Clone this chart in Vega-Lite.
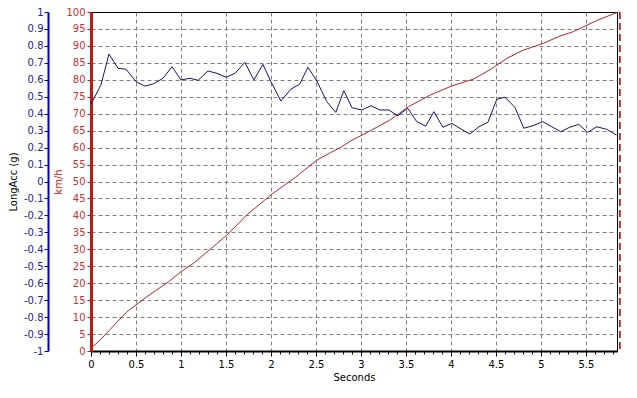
{
  "$schema": "https://vega.github.io/schema/vega-lite/v6.json",
  "width": 526,
  "height": 339,
  "autosize": "none",
  "padding": {"left": 91, "top": 12, "right": 20, "bottom": 47},
  "background": "white",
  "config": {
    "view": {"stroke": "black", "strokeWidth": 1},
    "font": "DejaVu Sans",
    "axis": {"labelFont": "DejaVu Sans", "titleFont": "DejaVu Sans", "labelFontSize": 10, "titleFontSize": 10, "titleFontWeight": "normal"}
  },
  "datasets": {
    "acc": [
      {"t": 0.00, "acc": 0.457}, {"t": 0.11, "acc": 0.569}, {"t": 0.20, "acc": 0.752}, {"t": 0.30, "acc": 0.668},
      {"t": 0.39, "acc": 0.662}, {"t": 0.50, "acc": 0.589}, {"t": 0.60, "acc": 0.563}, {"t": 0.69, "acc": 0.575},
      {"t": 0.80, "acc": 0.609}, {"t": 0.90, "acc": 0.677}, {"t": 1.00, "acc": 0.599}, {"t": 1.10, "acc": 0.609},
      {"t": 1.19, "acc": 0.597}, {"t": 1.30, "acc": 0.652}, {"t": 1.40, "acc": 0.638}, {"t": 1.50, "acc": 0.615},
      {"t": 1.60, "acc": 0.638}, {"t": 1.71, "acc": 0.703}, {"t": 1.81, "acc": 0.599}, {"t": 1.91, "acc": 0.691},
      {"t": 2.00, "acc": 0.589}, {"t": 2.11, "acc": 0.475}, {"t": 2.22, "acc": 0.544}, {"t": 2.32, "acc": 0.575},
      {"t": 2.41, "acc": 0.674}, {"t": 2.51, "acc": 0.593}, {"t": 2.62, "acc": 0.471}, {"t": 2.72, "acc": 0.408},
      {"t": 2.81, "acc": 0.536}, {"t": 2.90, "acc": 0.435}, {"t": 3.01, "acc": 0.422}, {"t": 3.11, "acc": 0.447},
      {"t": 3.21, "acc": 0.422}, {"t": 3.31, "acc": 0.422}, {"t": 3.41, "acc": 0.388}, {"t": 3.52, "acc": 0.432},
      {"t": 3.62, "acc": 0.353}, {"t": 3.72, "acc": 0.327}, {"t": 3.81, "acc": 0.412}, {"t": 3.91, "acc": 0.320},
      {"t": 4.01, "acc": 0.343}, {"t": 4.11, "acc": 0.310}, {"t": 4.21, "acc": 0.280}, {"t": 4.31, "acc": 0.323},
      {"t": 4.41, "acc": 0.349}, {"t": 4.51, "acc": 0.485}, {"t": 4.60, "acc": 0.497}, {"t": 4.71, "acc": 0.438},
      {"t": 4.81, "acc": 0.314}, {"t": 4.91, "acc": 0.329}, {"t": 5.02, "acc": 0.353}, {"t": 5.12, "acc": 0.323},
      {"t": 5.22, "acc": 0.294}, {"t": 5.32, "acc": 0.320}, {"t": 5.42, "acc": 0.337}, {"t": 5.52, "acc": 0.290},
      {"t": 5.62, "acc": 0.323}, {"t": 5.73, "acc": 0.308}, {"t": 5.84, "acc": 0.274}
    ],
    "speed": [
      {"t": 0.00, "kmh": 0.8}, {"t": 0.10, "kmh": 3.2}, {"t": 0.40, "kmh": 11.6}, {"t": 0.62, "kmh": 16.0},
      {"t": 0.86, "kmh": 20.4}, {"t": 1.00, "kmh": 23.4}, {"t": 1.14, "kmh": 25.9}, {"t": 1.36, "kmh": 30.8},
      {"t": 1.51, "kmh": 34.2}, {"t": 1.73, "kmh": 40.1}, {"t": 2.02, "kmh": 46.5}, {"t": 2.27, "kmh": 51.2},
      {"t": 2.51, "kmh": 56.3}, {"t": 2.66, "kmh": 58.5}, {"t": 2.77, "kmh": 60.0}, {"t": 2.90, "kmh": 62.2},
      {"t": 3.03, "kmh": 63.9}, {"t": 3.32, "kmh": 68.1}, {"t": 3.53, "kmh": 72.1}, {"t": 3.77, "kmh": 75.5},
      {"t": 4.01, "kmh": 78.2}, {"t": 4.25, "kmh": 80.2}, {"t": 4.43, "kmh": 82.9}, {"t": 4.62, "kmh": 86.3},
      {"t": 4.79, "kmh": 88.6}, {"t": 5.03, "kmh": 90.8}, {"t": 5.21, "kmh": 92.9}, {"t": 5.36, "kmh": 94.2},
      {"t": 5.62, "kmh": 97.5}, {"t": 5.84, "kmh": 99.8}
    ],
    "cursor": [{"t": 5.877}]
  },
  "encoding": {
    "x": {
      "field": "t",
      "type": "quantitative",
      "title": "Seconds",
      "scale": {"domain": [0, 5.845], "nice": false, "zero": false},
      "axis": {
        "values": [0,0.1,0.2,0.3,0.4,0.5,0.6,0.7,0.8,0.9,1,1.1,1.2,1.3,1.4,1.5,1.6,1.7,1.8,1.9,2,2.1,2.2,2.3,2.4,2.5,2.6,2.7,2.8,2.9,3,3.1,3.2,3.3,3.4,3.5,3.6,3.7,3.8,3.9,4,4.1,4.2,4.3,4.4,4.5,4.6,4.7,4.8,4.9,5,5.1,5.2,5.3,5.4,5.5,5.6,5.7,5.8],
        "labelExpr": "abs(datum.value*2 - round(datum.value*2)) < 0.001 ? ('' + datum.value) : ''",
        "labelColor": "black",
        "labelPadding": 3,
        "labelFlush": false,
        "labelOverlap": false,
        "domainColor": "black",
        "domainWidth": 2,
        "tickColor": "black",
        "tickSize": {"condition": {"test": "abs(datum.value*2 - round(datum.value*2)) < 0.001", "value": 5}, "value": 3},
        "grid": true,
        "gridColor": "#808080",
        "gridDash": [4, 3],
        "gridOpacity": {"condition": {"test": "abs(datum.value*2 - round(datum.value*2)) < 0.001 && datum.value > 0", "value": 1}, "value": 0},
        "titleColor": "black",
        "titlePadding": 3
      }
    }
  },
  "layer": [
    {
      "data": {"name": "speed"},
      "mark": {"type": "line", "color": "#b02828", "strokeWidth": 1},
      "encoding": {
        "y": {
          "field": "kmh",
          "type": "quantitative",
          "title": "km/h",
          "scale": {"domain": [0, 100], "nice": false},
          "axis": {
            "orient": "left",
            "values": [0,5,10,15,20,25,30,35,40,45,50,55,60,65,70,75,80,85,90,95,100],
            "labelColor": "#c83232",
            "labelPadding": 2,
            "domainColor": "#c01a10",
            "domainWidth": 3,
            "tickColor": "#c01a10",
            "tickSize": 4,
            "grid": true,
            "gridColor": "#808080",
            "gridDash": [4, 3],
            "gridOpacity": {"condition": {"test": "datum.value > 0 && datum.value < 100", "value": 1}, "value": 0},
            "titleColor": "#c01a10",
            "titlePadding": 2
          }
        }
      }
    },
    {
      "data": {"name": "acc"},
      "mark": {"type": "line", "color": "#14146e", "strokeWidth": 1},
      "encoding": {
        "y": {
          "field": "acc",
          "type": "quantitative",
          "title": "LongAcc (g)",
          "scale": {"domain": [-1, 1], "nice": false, "zero": false},
          "axis": {
            "orient": "left",
            "offset": 43,
            "values": [-1,-0.9,-0.8,-0.7,-0.6,-0.5,-0.4,-0.3,-0.2,-0.1,0,0.1,0.2,0.3,0.4,0.5,0.6,0.7,0.8,0.9,1],
            "labelExpr": "'' + datum.value",
            "labelColor": "#1e1e8c",
            "labelPadding": 1,
            "domainColor": "#0000b4",
            "domainWidth": 2,
            "tickColor": "#0000b4",
            "tickSize": 4,
            "grid": false,
            "titleColor": "black",
            "titlePadding": 5
          }
        }
      }
    },
    {
      "data": {"name": "cursor"},
      "mark": {"type": "rule", "color": "#a00000", "strokeWidth": 1.5, "strokeDash": [7, 4], "clip": false},
      "encoding": {}
    }
  ],
  "resolve": {"scale": {"y": "independent"}}
}
